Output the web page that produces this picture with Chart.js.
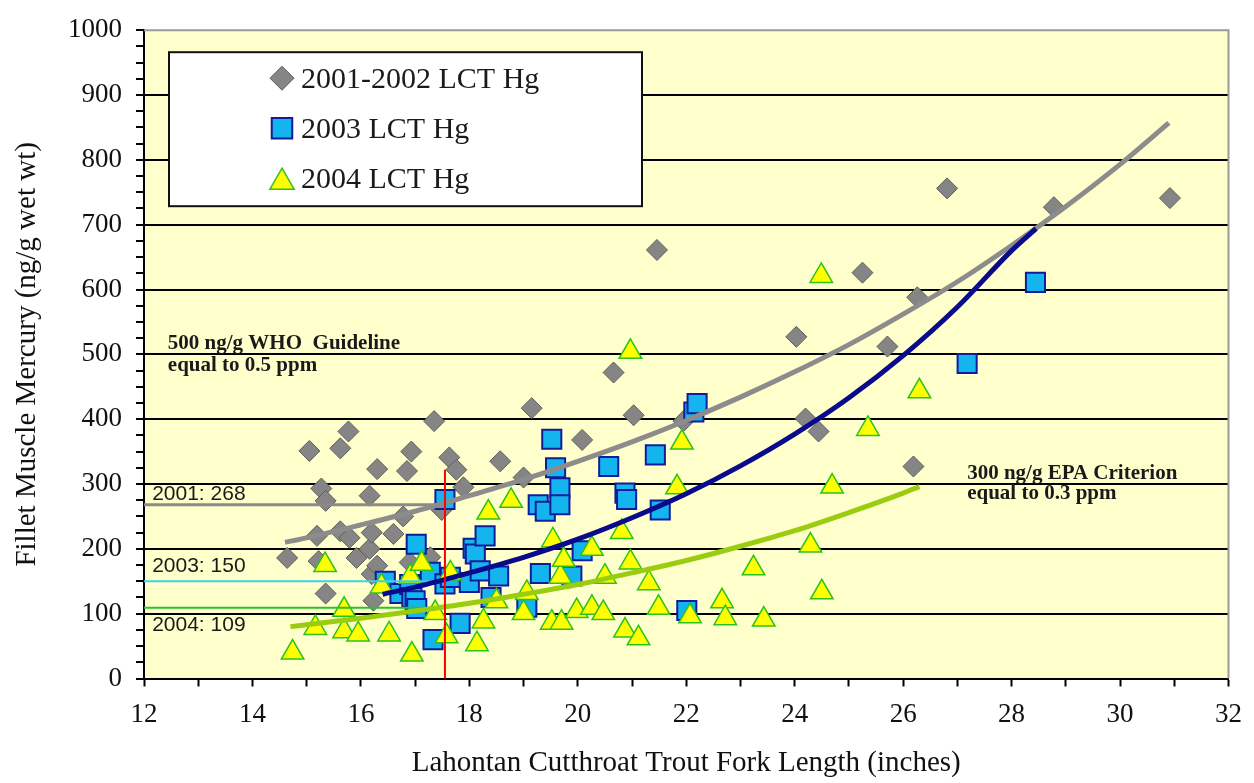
<!DOCTYPE html>
<html><head><meta charset="utf-8">
<script src="https://cdn.jsdelivr.net/npm/chart.js@4/dist/chart.umd.min.js"></script>
<style>html,body{margin:0;padding:0;background:#fff}</style>
</head><body>
<canvas id="c" width="1254" height="783"></canvas>
<script>
// ---------- data ----------
const xTicks = [12,14,16,18,20,22,24,26,28,30,32];
const yTicks = [0,100,200,300,400,500,600,700,800,900,1000];

const lctHg0102X = [14.64,15.05,15.62,15.77,15.19,15.22,15.27,15.35,15.35,15.62,15.79,15.92,16.16,16.16,16.20,16.20,16.23,16.30,16.30,16.60,16.78,16.85,16.90,16.93,17.28,17.35,17.49,17.63,17.76,17.89,18.57,19.00,19.15,20.08,20.66,21.03,21.46,21.95,24.03,24.20,24.44,25.25,25.71,26.19,26.26,26.81,28.78,30.92];
const lctHg0102Y = [186,351,355,381,220,181,293,274,131,227,217,186,282,200,225,161,120,323,174,223,250,320,179,350,187,397,260,341,322,295,335,310,417,368,472,406,661,397,527,401,381,626,512,327,588,756,727,741];

const lctHg03X = [16.45,16.72,16.90,16.94,17.00,17.03,17.02,17.28,17.33,17.55,17.55,17.65,17.83,18.00,18.07,18.11,18.20,18.29,18.40,18.54,19.06,19.27,19.31,19.40,19.52,19.59,19.67,19.67,19.89,20.08,20.57,20.87,20.90,21.43,21.52,22.01,22.14,22.20,27.18,28.44];
const lctHg03Y = [150,131,145,125,120,108,207,164,60,276,146,156,85,148,201,192,166,220,125,158,110,268,162,258,369,325,294,268,158,197,327,286,276,345,260,105,411,424,486,611];

const lctHg04X = [14.74,15.16,15.34,15.69,15.69,15.95,16.38,16.52,16.91,16.94,17.12,17.37,17.58,17.65,18.14,18.26,18.35,18.50,18.77,19.00,19.06,19.52,19.54,19.68,19.70,19.74,19.98,20.26,20.26,20.47,20.50,20.81,20.87,20.97,20.97,21.12,21.31,21.49,21.83,21.92,22.07,22.66,22.72,23.24,23.43,24.29,24.49,24.50,24.69,25.35,26.30];
const lctHg04Y = [40,78,175,106,73,68,142,68,157,37,177,101,65,162,53,88,256,119,274,101,132,86,213,157,86,183,104,200,109,101,157,226,74,504,179,62,147,109,295,364,96,119,93,170,91,205,621,133,296,385,443];

// trend curves
const trend0102X = [14.6,15,16,17,18,19,20,21,22,23,24,25,26,27,28,29,30,30.9];
const trend0102Y = [210,217,237,258,282,307,335,365,398,434,473,515,562,612,668,728,793,857];
const trend03X = [16.4,17,18,19,20,21,22,23,24,25,26,27,28,28.45];
const trend03Y = [130,141,163,187,215,248,285,328,377,433,498,573,660,694];
const trend04X = [14.7,15,16,17,18,19,20,21,22,23,24,25,26,26.3];
const trend04Y = [80,83,93,104,116,130,145,163,182,204,228,256,286,296];

// reference levels at 17.55 in
const refLength = 17.55;
const ref01 = 268, ref03 = 150, ref04 = 109, redTop = 322;

const seriesLabels = ['2001-2002 LCT Hg','2003 LCT Hg','2004 LCT Hg'];

// ---------- helpers ----------
const pts = (xs, ys) => xs.map((x, i) => ({x, y: ys[i]}));
const serif = 'Liberation Serif, Times New Roman, serif';
const sans = 'Liberation Sans, Arial, sans-serif';

const datasets = [
  {label: seriesLabels[0], data: pts(lctHg0102X, lctHg0102Y), pointStyle: 'rectRot', pointRadius: 10.5,
   backgroundColor: '#858585', borderColor: '#5e5e5e', borderWidth: 1, order: 9, showInLegend: true, legendRadius: 12},
  {label: seriesLabels[1], data: pts(lctHg03X, lctHg03Y), pointStyle: 'rect', pointRadius: 13.5,
   backgroundColor: '#14b4ee', borderColor: '#101c9a', borderWidth: 2, order: 8, showInLegend: true, legendRadius: 14.5},
  {label: seriesLabels[2], data: pts(lctHg04X, lctHg04Y), pointStyle: 'triangle', pointRadius: 13,
   backgroundColor: '#ffff00', borderColor: '#2cc21c', borderWidth: 1.5, order: 7, showInLegend: true, legendRadius: 14},
  {label: 'ref01', data: pts([12, refLength], [ref01, ref01]), showLine: true, pointRadius: 0, borderColor: '#8a8a8a', borderWidth: 3, order: 4},
  {label: 'ref03', data: pts([12, refLength], [ref03, ref03]), showLine: true, pointRadius: 0, borderColor: '#3fd0f0', borderWidth: 2, order: 4},
  {label: 'ref04', data: pts([12, refLength], [ref04, ref04]), showLine: true, pointRadius: 0, borderColor: '#2fbf2f', borderWidth: 2, order: 4},
  {label: 'trend0102', data: pts(trend0102X, trend0102Y), showLine: true, pointRadius: 0, borderColor: '#8c8c8c', borderWidth: 5, cubicInterpolationMode: 'monotone', order: 3},
  {label: 'trend03', data: pts(trend03X, trend03Y), showLine: true, pointRadius: 0, borderColor: '#0a0a8c', borderWidth: 5, cubicInterpolationMode: 'monotone', order: 2},
  {label: 'trend04', data: pts(trend04X, trend04Y), showLine: true, pointRadius: 0, borderColor: '#9acd10', borderWidth: 5, cubicInterpolationMode: 'monotone', order: 2},
  {label: 'refLen', data: pts([refLength, refLength], [0, redTop]), showLine: true, pointRadius: 0, borderColor: '#ff0000', borderWidth: 2, order: 1}
];

const decor = {
  id: 'decor',
  beforeDraw(chart) {
    const {ctx, chartArea: a} = chart;
    ctx.save();
    ctx.fillStyle = '#ffffcc';
    ctx.fillRect(a.left, a.top, a.right - a.left, a.bottom - a.top);
    ctx.restore();
  },
  afterDraw(chart) {
    const {ctx, chartArea: a, scales: {x, y}} = chart;
    ctx.save();
    // right/top frame
    ctx.strokeStyle = '#9a9a9a'; ctx.lineWidth = 2;
    ctx.beginPath(); ctx.moveTo(a.left, a.top); ctx.lineTo(a.right, a.top); ctx.lineTo(a.right, a.bottom); ctx.stroke();

    // reference labels
    ctx.fillStyle = '#1a1a1a';
    ctx.textAlign = 'left'; ctx.textBaseline = 'alphabetic';
    ctx.font = '21px ' + sans;
    ctx.fillText('2001: ' + ref01, x.getPixelForValue(12.15), y.getPixelForValue(276));
    ctx.fillText('2003: ' + ref03, x.getPixelForValue(12.15), y.getPixelForValue(165));
    ctx.fillText('2004: ' + ref04, x.getPixelForValue(12.15), y.getPixelForValue(73));

    ctx.font = 'bold 21px ' + serif;
    ctx.fillText('500 ng/g WHO  Guideline', x.getPixelForValue(12.44), y.getPixelForValue(508));
    ctx.fillText('equal to 0.5 ppm', x.getPixelForValue(12.44), y.getPixelForValue(474));
    ctx.fillText('300 ng/g EPA Criterion', x.getPixelForValue(27.18), y.getPixelForValue(308));
    ctx.fillText('equal to 0.3 ppm', x.getPixelForValue(27.18), y.getPixelForValue(277));

    // legend box
    const L = a.left + 25, T = a.top + 22, W = 473, H = 154;
    ctx.fillStyle = '#ffffff';
    ctx.fillRect(L, T, W, H);
    ctx.strokeStyle = '#111'; ctx.lineWidth = 2;
    ctx.strokeRect(L, T, W, H);
    const items = chart.data.datasets.filter(d => d.showInLegend);
    items.forEach((d, i) => {
      const cy = T + 26 + i * 50;
      const cx = L + 113;
      ctx.fillStyle = d.backgroundColor; ctx.strokeStyle = d.borderColor; ctx.lineWidth = d.borderWidth;
      Chart.helpers.drawPoint(ctx, {pointStyle: d.pointStyle, radius: d.legendRadius, borderWidth: d.borderWidth, rotation: 0},
        cx, cy + (d.pointStyle === 'triangle' ? 4 : 0));
      ctx.fillStyle = '#1a1a1a';
      ctx.font = '30px ' + serif;
      ctx.textBaseline = 'alphabetic';
      ctx.fillText(d.label, L + 132, cy + 10);
    });
    ctx.restore();
  }
};

new Chart(document.getElementById('c'), {
  type: 'scatter',
  data: {datasets},
  options: {
    responsive: false,
    animation: false,
    layout: {padding: {top: 24, right: 24, left: 0, bottom: 0}},
    plugins: {legend: {display: false}, tooltip: {enabled: false}},
    scales: {
      x: {
        type: 'linear', min: 12, max: 32,
        afterFit(s) { s.height = 104.5; },
        ticks: {stepSize: 1, autoSkip: false, maxRotation: 0, padding: 12, color: '#111',
          font: {family: serif, size: 27},
          callback: v => xTicks.includes(v) ? String(v) : ''},
        grid: {drawOnChartArea: false, tickLength: 8, tickColor: '#000', tickWidth: 2},
        border: {color: '#000', width: 2},
        title: {display: true, text: 'Lahontan Cutthroat Trout Fork Length (inches)', color: '#111',
          font: {family: serif, size: 29}, padding: {top: 0, bottom: 2}}
      },
      y: {
        type: 'linear', min: 0, max: 1000,
        afterFit(s) { s.width = 144; },
        ticks: {stepSize: 25, autoSkip: false, padding: 14, color: '#111',
          font: {family: serif, size: 27},
          callback: v => yTicks.includes(v) ? String(v) : ''},
        grid: {
          color: c => (c.tick && c.tick.value % 100 === 0 && c.tick.value !== 1000) ? '#000' : 'rgba(0,0,0,0)',
          lineWidth: 2, tickLength: 8, tickColor: '#000', tickWidth: 2
        },
        border: {color: '#000', width: 2},
        title: {display: true, text: 'Fillet Muscle Mercury (ng/g wet wt)', color: '#111',
          font: {family: serif, size: 29}, padding: {top: 10, bottom: 0}}
      }
    }
  },
  plugins: [decor]
});
</script>
</body></html>
